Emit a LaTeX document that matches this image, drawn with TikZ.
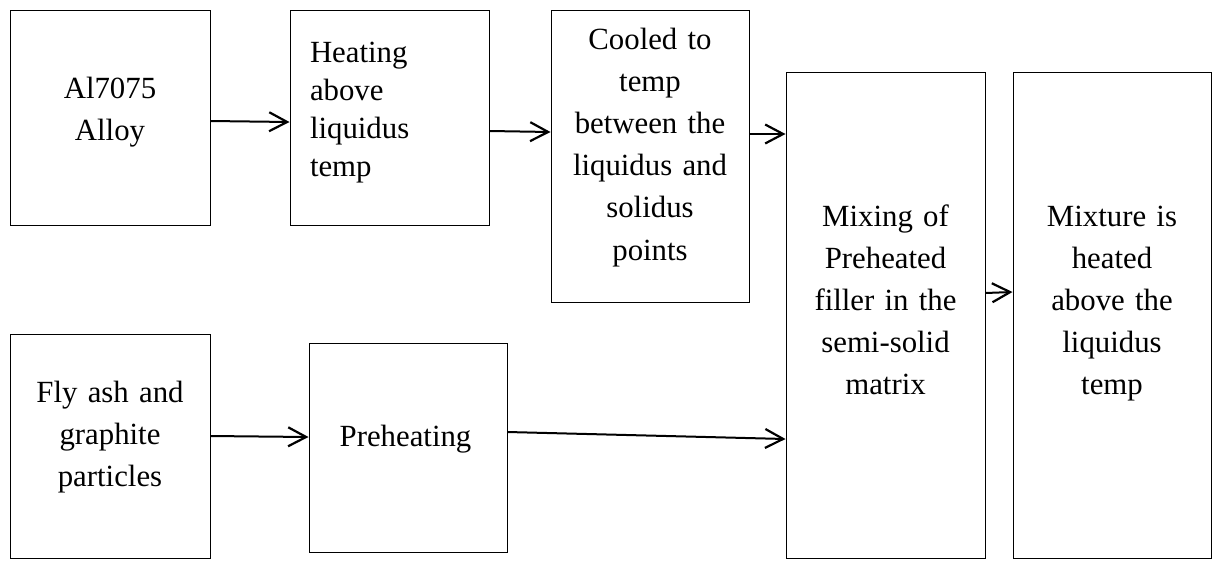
\documentclass[tikz,border=0pt]{standalone}
\usepackage{fontspec}
\setmainfont{Liberation Serif}
\usetikzlibrary{arrows.meta}
\begin{document}
\begin{tikzpicture}[x=1pt,y=-1pt,
  box/.style={draw, line width=1pt, inner sep=0pt, fill=none},
  txt/.style={font=\fontsize{30.8}{42.2}\selectfont, text width=196pt, align=center, inner sep=0pt, anchor=base},
  arr/.style={line width=2pt, -{Straight Barb[length=18pt,width=19pt,line width=2.2pt]}}]
\useasboundingbox (0,0) rectangle (1217,560);
% boxes
\node[box, minimum width=200pt, minimum height=215pt] (b1) at (110,117.5) {};
\node[box, minimum width=199pt, minimum height=215pt] (b2) at (389.5,117.5) {};
\node[box, minimum width=198pt, minimum height=292pt] (b3) at (650,156) {};
\node[box, minimum width=199pt, minimum height=486pt] (b4) at (885.5,315) {};
\node[box, minimum width=198pt, minimum height=486pt] (b5) at (1112,315) {};
\node[box, minimum width=200pt, minimum height=224pt] (b6) at (110,446) {};
\node[box, minimum width=198pt, minimum height=209pt] (b7) at (408,447.5) {};
% texts
\node[txt] (t1) at (110,98) {Al7075\\Alloy};
\node[txt, align=left, text width=170pt, font=\fontsize{30.8}{38}\selectfont] (t2) at (395,62) {Heating\\above\\liquidus\\temp};
\node[txt] (t3) at (650,49) {Cooled to\\temp\\between the\\liquidus and\\solidus\\points};
\node[txt] (t4) at (885.5,226) {Mixing of\\Preheated\\filler in the\\semi-solid\\matrix};
\node[txt] (t5) at (1112,226) {Mixture is\\heated\\above the\\liquidus\\temp};
\node[txt] (t6) at (110,402) {Fly ash and\\graphite\\particles};
\node[txt] (t7) at (405.5,446) {Preheating};
% connectors
\draw[arr] ([yshift=-3.5pt]b1.east) -- ([yshift=-4.5pt]b2.west);
\draw[arr] ([yshift=-13.5pt]b2.east) -- ([yshift=24pt]b3.west);
\draw[arr] ([yshift=22pt]b3.east) -- ([yshift=181pt]b4.west);
\draw[arr] ([yshift=22pt]b4.east) -- ([yshift=23pt]b5.west);
\draw[arr] ([yshift=10pt]b6.east) -- ([yshift=10.5pt]b7.west);
\draw[arr] ([yshift=15.5pt]b7.east) -- ([yshift=-124pt]b4.west);
\end{tikzpicture}
\end{document}
